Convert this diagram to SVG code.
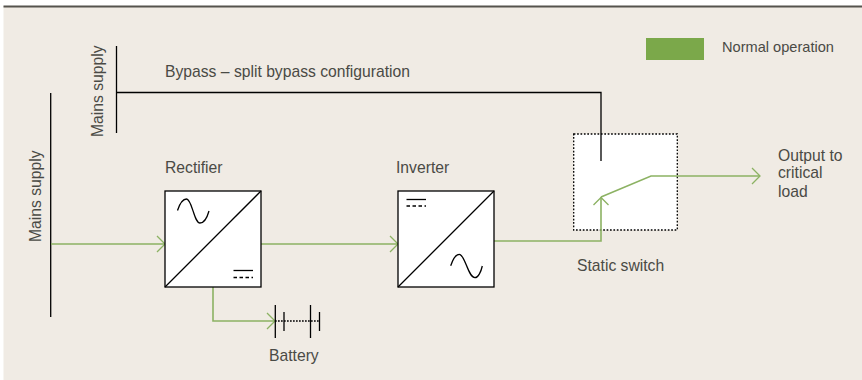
<svg xmlns="http://www.w3.org/2000/svg" width="862" height="380" viewBox="0 0 862 380">
<style>
text{font-family:"Liberation Sans",Arial,sans-serif;font-size:15.7px;fill:#4a4a45}
.k{fill:none;stroke:#000;stroke-width:1.3}
.g{fill:none;stroke:#8cb263;stroke-width:1.6}
.b{fill:#fff;stroke:#000;stroke-width:1.3}
</style>
<defs>
<marker id="arrow" markerUnits="userSpaceOnUse" markerWidth="12" markerHeight="18" refX="9.5" refY="8" orient="auto" overflow="visible">
<path d="M1.5 0L9.5 8L1.5 16" fill="none" stroke="#8cb263" stroke-width="1.3"/>
</marker>
</defs>
<rect x="0" y="0" width="862" height="380" fill="#fff"/>
<rect x="3.5" y="6" width="858.5" height="374" fill="#f0ebe4"/>
<rect x="3.5" y="5.5" width="858.5" height="2" fill="#55534d"/>
<g id="legend">
<rect x="646" y="38" width="58" height="22" fill="#7ba84a"/>
<text x="722" y="52" style="font-size:14.600px">Normal operation</text>
</g>
<g id="mains-main">
<line class="k" x1="50.7" y1="93" x2="50.7" y2="317"/>
<text transform="translate(41,242) rotate(-90)">Mains supply</text>
</g>
<g id="mains-bypass">
<line class="k" x1="116.5" y1="46" x2="116.5" y2="133"/>
<text transform="translate(103,137) rotate(-90)">Mains supply</text>
</g>
<g id="static-switch">
<rect x="573.7" y="134" width="103.6" height="96" fill="#fff" stroke="#000" stroke-width="1.3" stroke-dasharray="1.7 1.7"/>
<text x="577" y="271">Static switch</text>
</g>
<g id="connectors">
<path d="M116.5 92.5H601V161" fill="none" stroke="#000" stroke-width="1.3"/>
<path class="g" d="M51 244H165" marker-end="url(#arrow)"/>
<path class="g" d="M261 244H398" marker-end="url(#arrow)"/>
<path class="g" d="M494 241H601V197"/>
<path d="M593.5 205L601 197.500L608.500 205" fill="none" stroke="#8cb263" stroke-width="1.3"/>
<path class="g" d="M601 197L651 176H760" marker-end="url(#arrow)"/>
<path class="g" d="M213 287V321H275" marker-end="url(#arrow)"/>
</g>
<g id="rectifier">
<rect class="b" x="165" y="191" width="96" height="96"/>
<line class="k" x1="165" y1="287" x2="261" y2="191"/>
<path class="k" d="M177.500 210.500C180 203 183 199 186.500 199C192 199 194 223 200 223C204 223 207 218 209 211"/>
<line class="k" x1="233.500" y1="270.500" x2="253" y2="270.500"/>
<line class="k" x1="233.500" y1="277.500" x2="253" y2="277.500" stroke-dasharray="3.500 2.500"/>
<text x="165" y="173">Rectifier</text>
</g>
<g id="inverter">
<rect class="b" x="398" y="191" width="96" height="96"/>
<line class="k" x1="398" y1="287" x2="494" y2="191"/>
<path class="k" d="M450.700 265.700C453 259 456 254.300 459.300 254.300C465 254.300 468 277.700 475 277.700C478 277.700 481 272 482.300 266"/>
<line class="k" x1="406.500" y1="199.500" x2="426" y2="199.500"/>
<line class="k" x1="406.500" y1="206" x2="426" y2="206" stroke-dasharray="3.500 2.500"/>
<text x="396" y="173">Inverter</text>
</g>
<g id="battery">
<line class="k" x1="275.300" y1="305" x2="275.300" y2="338"/>
<line class="k" x1="284" y1="312" x2="284" y2="331"/>
<line class="k" x1="310.500" y1="305" x2="310.500" y2="338"/>
<line class="k" x1="319.500" y1="312" x2="319.500" y2="331"/>
<line class="k" x1="275" y1="321" x2="320" y2="321" stroke-dasharray="1.700 1.300"/>
<text x="269" y="361">Battery</text>
</g>
<g id="labels">
<text x="165" y="77">Bypass – split bypass configuration</text>
<text x="778" y="161">Output to</text>
<text x="778" y="178">critical</text>
<text x="778" y="197">load</text>
</g>
</svg>
